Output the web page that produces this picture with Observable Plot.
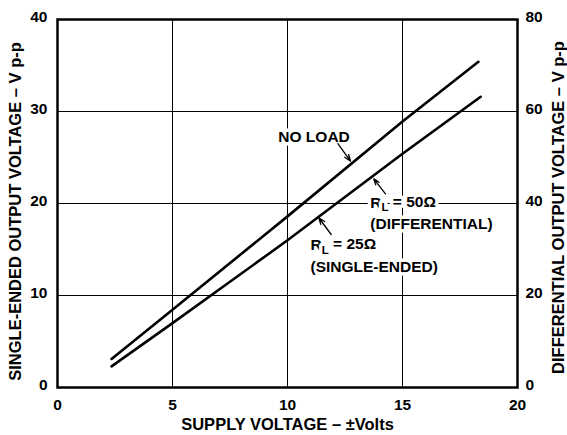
<!DOCTYPE html>
<html>
<head>
<meta charset="utf-8">
<script src="https://cdn.jsdelivr.net/npm/d3@7"></script>
<script src="https://cdn.jsdelivr.net/npm/@observablehq/plot@0.6"></script>
<style>
  html, body { margin: 0; padding: 0; background: white; }
  svg { font-family: "Liberation Sans", Arial, sans-serif; font-weight: bold; }
</style>
</head>
<body>
<div id="chart"></div>
<script>
// Supply voltage (±V) vs single-ended output voltage (V p-p)
const supplyNoLoad = [2.35, 5, 10, 15, 18.3];
const outNoLoad    = [3.1, 8.45, 18.6, 28.9, 35.4];
const supplyLoaded = [2.35, 5, 10, 15, 18.4];
const outLoaded    = [2.3, 7.0, 16.0, 25.4, 31.6];

const xTicks = [0, 5, 10, 15, 20];
const yTicks = [0, 10, 20, 30, 40];
const xGrid = [5, 10, 15];
const yGrid = [10, 20, 30];

// annotation labels
const labelText = ["NO LOAD", "RL = 50Ω", "(DIFFERENTIAL)", "RL = 25Ω", "(SINGLE-ENDED)"];
const labelX    = [9.6, 13.6, 13.6, 11.0, 11.0];
const labelY    = [27.2, 20.05, 17.75, 15.45, 13.05];

// annotation arrows (tail -> head on the curve)
const arrowX1 = [12.19, 14.26, 11.9];
const arrowY1 = [26.5, 21.05, 16.63];
const arrowX2 = [12.74, 13.75, 11.36];
const arrowY2 = [24.6, 22.68, 18.45];

const noLoad = supplyNoLoad.map((x, i) => ({x, y: outNoLoad[i]}));
const loaded = supplyLoaded.map((x, i) => ({x, y: outLoaded[i]}));
const labels = labelText.map((t, i) => ({t, x: labelX[i], y: labelY[i]}));
const arrows = arrowX1.map((x1, i) => ({x1, y1: arrowY1[i], x2: arrowX2[i], y2: arrowY2[i]}));

const FONT = 15.5;
const TITLE = 16.5;

const chart = Plot.plot({
  width: 567,
  height: 435,
  marginLeft: 57,
  marginRight: 50,
  marginTop: 19,
  marginBottom: 48,
  style: {fontFamily: '"Liberation Sans", Arial, sans-serif', fontWeight: "bold", background: "white", color: "black"},
  x: {domain: [0, 20]},
  y: {domain: [0, 40]},
  marks: [
    Plot.gridX(xGrid, {stroke: "black", strokeOpacity: 1, strokeWidth: 1}),
    Plot.gridY(yGrid, {stroke: "black", strokeOpacity: 1, strokeWidth: 1}),
    Plot.axisX(xTicks, {tickSize: 0, tickPadding: 11, fontSize: 15.5, fontWeight: "bold", label: null}),
    Plot.axisY(yTicks, {anchor: "left", tickSize: 0, tickPadding: 10, dy: -2, fontSize: 15.5, fontWeight: "bold", label: null}),
    Plot.axisY(yTicks, {anchor: "right", tickSize: 0, tickPadding: 8, dy: -2, fontSize: 15.5, fontWeight: "bold", label: null, tickFormat: d => String(d * 2)}),
    Plot.text(["SUPPLY VOLTAGE – ±Volts"], {frameAnchor: "bottom", dy: 37, lineAnchor: "middle", fontSize: TITLE, fontWeight: "bold", fill: "black"}),
    Plot.text(["SINGLE-ENDED OUTPUT VOLTAGE – V p-p"], {frameAnchor: "left", dx: -42, dy: 8, rotate: -90, lineAnchor: "middle", textAnchor: "middle", fontSize: TITLE, fontWeight: "bold", fill: "black"}),
    Plot.text(["DIFFERENTIAL OUTPUT VOLTAGE – V p-p"], {frameAnchor: "right", dx: 41, dy: 4, rotate: -90, lineAnchor: "middle", textAnchor: "middle", fontSize: TITLE, fontWeight: "bold", fill: "black"}),
    Plot.text(labels, {x: "x", y: "y", text: "t", textAnchor: "start", lineAnchor: "middle", fontSize: FONT, fontWeight: "bold", fill: "black", stroke: "white", strokeWidth: 7, className: "annot"}),
    Plot.line(noLoad, {x: "x", y: "y", stroke: "black", strokeWidth: 2.6}),
    Plot.line(loaded, {x: "x", y: "y", stroke: "black", strokeWidth: 2.6}),
    Plot.arrow(arrows, {x1: "x1", y1: "y1", x2: "x2", y2: "y2", stroke: "black", strokeWidth: 1.3, headLength: 8, headAngle: 40}),
    Plot.frame({stroke: "black", strokeWidth: 2.5})
  ]
});

// subscript "L" in R_L labels
d3.select(chart).selectAll("g.annot text").each(function() {
  const s = this.textContent;
  if (s.startsWith("RL")) {
    const rest = s.slice(2);
    const el = d3.select(this);
    el.text(null);
    el.append("tspan").text("R");
    el.append("tspan").attr("dy", "0.3em").attr("font-size", "11.5px").text("L");
    el.append("tspan").attr("dy", "-0.3em").text(rest);
  }
});

document.getElementById("chart").appendChild(chart);
</script>
</body>
</html>
